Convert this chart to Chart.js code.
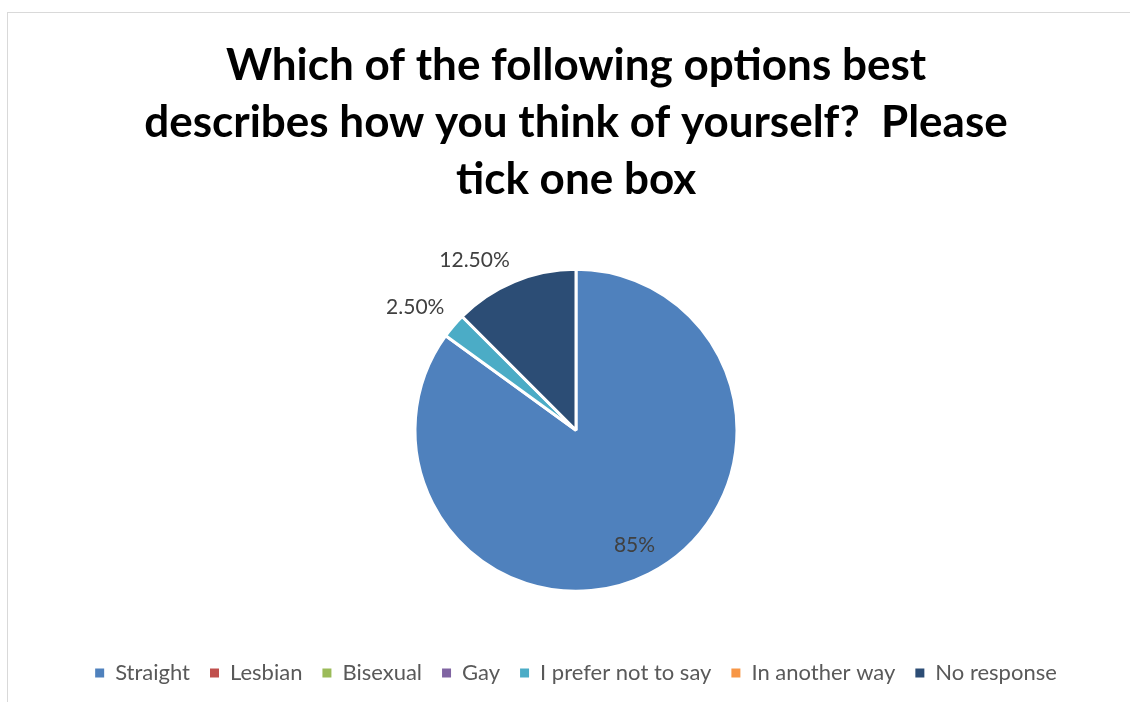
<!DOCTYPE html>
<html>
<head>
<meta charset="utf-8">
<script src="https://cdn.jsdelivr.net/npm/chart.js@4.4.1/dist/chart.umd.min.js"></script>
<style>
	html, body { margin: 0; padding: 0; background: #fff; overflow: hidden; width: 1130px; height: 702px; }
	#chart-box { position: absolute; left: 7px; top: 12px; width: 1136px; height: 700px; border: 1px solid #d9d9d9; background: #fff; }
	#identity-chart { display: block; }
</style>
</head>
<body>
<div id="chart-box">
	<canvas id="identity-chart" width="1136" height="689"></canvas>
</div>
<script>
'use strict';

var titleLines = ['Which of the following options best', 'describes how you think of yourself?  Please', 'tick one box'];
var categories = ['Straight', 'Lesbian', 'Bisexual', 'Gay', 'I prefer not to say', 'In another way', 'No response'];
var percentages = [85, 0, 0, 0, 2.5, 0, 12.5];
var sliceColors = ['#4f81bd', '#c0504d', '#9bbb59', '#8064a2', '#4bacc6', '#f79646', '#2c4d75'];

function formatPercent(v) {
	return (Math.round(v) === v ? v : v.toFixed(2)) + '%';
}

// percent labels: the big slice gets its label inside, small ones sit just outside the rim
var sliceLabels = {
	id: 'sliceLabels',
	afterDatasetsDraw: function(chart) {
		var ctx = chart.ctx;
		var meta = chart.getDatasetMeta(0);
		var values = chart.data.datasets[0].data;
		ctx.save();
		ctx.font = '21px Lato, "Liberation Sans", sans-serif';
		ctx.fillStyle = '#404040';
		meta.data.forEach(function(arc, i) {
			var v = values[i];
			if (!v) return;
			var p = arc.getProps(['x', 'y', 'startAngle', 'endAngle', 'outerRadius'], true);
			var mid = (p.startAngle + p.endAngle) / 2;
			var cos = Math.cos(mid), sin = Math.sin(mid);
			var x, y;
			if (v >= 50) {
				x = p.x + cos * p.outerRadius * 0.8;
				y = p.y + sin * p.outerRadius * 0.8;
				ctx.textAlign = 'center';
				ctx.textBaseline = 'middle';
			} else {
				x = p.x + cos * (p.outerRadius + 12);
				y = p.y + sin * (p.outerRadius + 12);
				ctx.textAlign = cos < 0 ? 'right' : 'left';
				ctx.textBaseline = sin < 0 ? 'bottom' : 'top';
			}
			ctx.fillText(formatPercent(v), x, y);
		});
		ctx.restore();
	}
};

var identityConfig = {
	type: 'pie',
	data: {
		labels: categories,
		datasets: [{
			data: percentages,
			backgroundColor: sliceColors,
			borderColor: '#ffffff',
			borderWidth: 3,
			radius: 161
		}]
	},
	options: {
		responsive: false,
		animation: false,
		layout: {
			padding: { top: 0, bottom: 8, left: 0, right: 0 }
		},
		plugins: {
			title: {
				display: true,
				text: titleLines,
				color: '#000000',
				font: { family: 'Lato, "Liberation Sans", sans-serif', size: 44, weight: 'bold', lineHeight: 1.3 },
				padding: { top: 24, bottom: 10 }
			},
			legend: {
				position: 'bottom',
				labels: {
					color: '#595959',
					font: { family: 'Lato, "Liberation Sans", sans-serif', size: 22 },
					boxWidth: 9,
					boxHeight: 9,
					padding: 20,
					// plain filled squares, without the white slice border
					generateLabels: function(chart) {
						var items = Chart.controllers.pie.overrides.plugins.legend.labels.generateLabels(chart);
						items.forEach(function(item) {
							item.lineWidth = 0;
							item.strokeStyle = item.fillStyle;
						});
						return items;
					}
				}
			},
			tooltip: { enabled: false }
		}
	},
	plugins: [sliceLabels]
};

var identity = document.getElementById('identity-chart').getContext('2d');
var identityChart = new Chart(identity, identityConfig);
</script>
</body>
</html>
